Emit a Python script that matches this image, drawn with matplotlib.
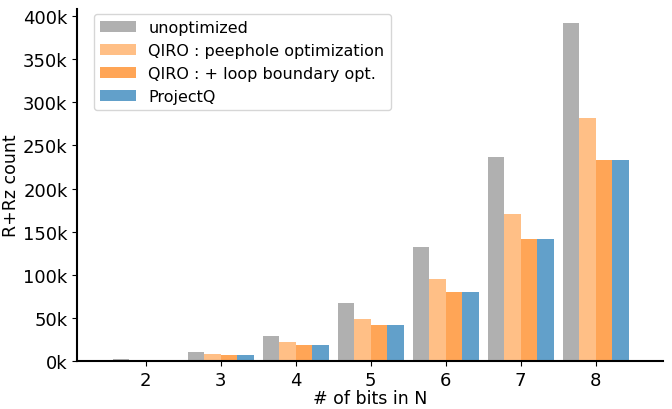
import numpy as np
import matplotlib
matplotlib.use("Agg")
import matplotlib.pyplot as plt
from matplotlib.ticker import FuncFormatter

bits = [2, 3, 4, 5, 6, 7, 8]
unoptimized = [2300, 10400, 29000, 67000, 132000, 236500, 392000]
peephole = [1600, 7700, 21600, 49000, 95000, 170000, 281700]
loop_opt = [1400, 6600, 18500, 42000, 80000, 141000, 233000]
projectq = [1400, 6600, 18500, 42000, 80000, 141000, 233000]

labels = ["unoptimized", "QIRO : peephole optimization",
          "QIRO : + loop boundary opt.", "ProjectQ"]
colors = ["#b0b0b0", "#ffbf86", "#ffa556", "#62a0ca"]
series = [unoptimized, peephole, loop_opt, projectq]

plt.rcParams['font.family'] = ['DejaVu Sans']
plt.rcParams['font.size'] = 12.5

fig, ax = plt.subplots(figsize=(6.72, 4.10), dpi=100)
fig.subplots_adjust(left=0.115, right=0.987, bottom=0.117, top=0.975)

x = np.array(bits)
w = 0.22
for i, (vals, lab, col) in enumerate(zip(series, labels, colors)):
    ax.bar(x + (i - 1.5) * w, vals, width=w, color=col, label=lab,
           linewidth=0)

ax.set_xlim(1.09, 8.9)
ax.set_ylim(0, 408000)
ax.set_xticks(bits)
ax.set_yticks(np.arange(0, 400001, 50000))
ax.yaxis.set_major_formatter(FuncFormatter(lambda v, p: f"{int(v/1000)}k"))
ax.tick_params(labelsize=13)
ax.spines['top'].set_visible(False)
ax.spines['right'].set_visible(False)
ax.spines['left'].set_linewidth(1.5)
ax.spines['bottom'].set_linewidth(1.5)
ax.set_xlabel('# of bits in N', labelpad=0)
ax.set_ylabel('R+Rz count', labelpad=2)
ax.legend(loc='upper left', fontsize=11.5, bbox_to_anchor=(0.015, 1.01),
          handlelength=2.2)

plt.savefig('out.png')
